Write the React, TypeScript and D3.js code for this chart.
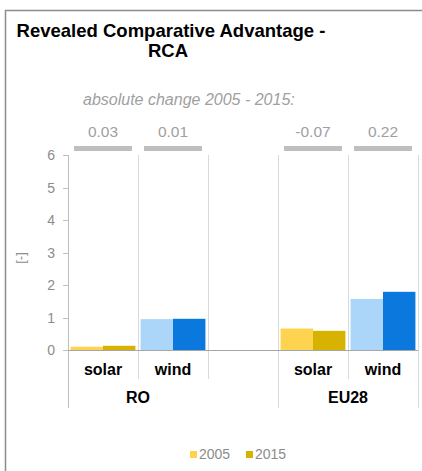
import React from "react";
import * as d3 from "d3";

const groups = ["RO", "EU28"];
const techs = ["solar", "wind"];
const years = ["2005", "2015"];
const slots = ["RO|solar", "RO|wind", "gap", "EU28|solar", "EU28|wind"];
const values2005 = [0.1, 0.95, 0.66, 1.57];
const values2015 = [0.13, 0.96, 0.59, 1.79];
const changes = ["0.03", "0.01", "-0.07", "0.22"];
const yTicks = [0, 1, 2, 3, 4, 5, 6];

const colors: Record<string, string[]> = {
  solar: ["#FDD34F", "#D7B200"],
  wind: ["#ABD6FA", "#0A78DC"],
};

const W = 422;
const H = 471;
const FONT = "Liberation Sans, Arial, sans-serif";

export default function App() {
  const x = d3.scaleBand().domain(slots).range([68, 418]).paddingInner(0).paddingOuter(0);
  const y = d3.scaleLinear().domain([0, 6]).range([350, 155]);
  const inner = d3.scaleBand().domain(years).range([0, x.bandwidth()]).paddingOuter(0.08).paddingInner(0);

  const bars: { key: string; slot: string; tech: string; yi: number; v: number }[] = [];
  const cats: { slot: string; tech: string; group: string; idx: number }[] = [];
  let idx = 0;
  groups.forEach((g) => {
    techs.forEach((t) => {
      const slot = `${g}|${t}`;
      cats.push({ slot, tech: t, group: g, idx });
      bars.push({ key: slot + "0", slot, tech: t, yi: 0, v: values2005[idx] });
      bars.push({ key: slot + "1", slot, tech: t, yi: 1, v: values2015[idx] });
      idx++;
    });
  });

  const bw = x.bandwidth();
  const gridColor = "#D9D9D9";
  const axisColor = "#BFBFBF";

  return (
    <svg width={W} height={H} style={{ display: "block", position: "absolute", left: 0, top: 0 }} fontFamily={FONT}>
      <rect x={0} y={0} width={W} height={H} fill="#fff" />
      {/* frame */}
      <line x1={5.5} y1={10} x2={5.5} y2={H} stroke="#8C8C8C" strokeWidth={1.5} />
      <line x1={5} y1={10.5} x2={W} y2={10.5} stroke="#8C8C8C" strokeWidth={1.5} />

      {/* title */}
      <text x={171} y={37} textAnchor="middle" fontSize={18.5} fontWeight="bold" fill="#000">
        Revealed Comparative Advantage -
      </text>
      <text x={168} y={57} textAnchor="middle" fontSize={18.5} fontWeight="bold" fill="#000">
        RCA
      </text>

      <text x={83} y={105} fontSize={16} fontStyle="italic" fill="#A0A0A0">
        absolute change 2005 - 2015:
      </text>

      {/* change values & grey bars */}
      {cats.map((c, i) => (
        <g key={c.slot}>
          <text x={(x(c.slot) ?? 0) + bw / 2} y={137} textAnchor="middle" fontSize={15.5} fill="#A0A0A0">
            {changes[i]}
          </text>
          <rect x={(x(c.slot) ?? 0) + 6} y={146} width={bw - 12} height={5} fill="#BFBFBF" />
        </g>
      ))}

      {/* vertical separators */}
      {slots.slice(1).map((s) => {
        const xx = Math.round(x(s) ?? 0) + 0.5;
        const isGroup = s === "EU28|solar";
        return <line key={s} x1={xx} x2={xx} y1={155} y2={isGroup ? 408 : 379} stroke={gridColor} strokeWidth={1} />;
      })}
      <line x1={418.5} x2={418.5} y1={155} y2={408} stroke={gridColor} strokeWidth={1} />

      {/* bars */}
      {bars.map((b) => (
        <rect
          key={b.key}
          x={(x(b.slot) ?? 0) + (inner(years[b.yi]) ?? 0)}
          y={y(b.v)}
          width={inner.bandwidth()}
          height={y(0) - y(b.v)}
          fill={colors[b.tech][b.yi]}
        />
      ))}

      {/* y axis */}
      <line x1={68.5} x2={68.5} y1={155} y2={408} stroke={axisColor} strokeWidth={1} />
      <line x1={63} x2={418} y1={350.5} y2={350.5} stroke="#A6A6A6" strokeWidth={1} />
      {yTicks.map((t) => (
        <g key={t}>
          <line x1={63} x2={68} y1={Math.round(y(t)) + 0.5} y2={Math.round(y(t)) + 0.5} stroke={axisColor} />
          <text x={55} y={y(t) + 5} textAnchor="end" fontSize={14} fill="#8C8C8C">
            {t}
          </text>
        </g>
      ))}
      <text transform="translate(25,258) rotate(-90)" textAnchor="middle" fontSize={13} fill="#8C8C8C">
        [-]
      </text>

      {/* category labels */}
      {cats.map((c) => (
        <text key={c.slot + "l"} x={(x(c.slot) ?? 0) + bw / 2} y={375} textAnchor="middle" fontSize={16} fontWeight="bold" fill="#000">
          {c.tech}
        </text>
      ))}
      {groups.map((g) => {
        const x0 = x(`${g}|solar`) ?? 0;
        return (
          <text key={g} x={x0 + bw} y={403} textAnchor="middle" fontSize={16} fontWeight="bold" fill="#000">
            {g}
          </text>
        );
      })}

      {/* legend */}
      {years.map((yr, i) => (
        <g key={yr} transform={`translate(${190 + i * 56},451)`}>
          <rect x={0} y={0} width={7} height={7} fill={colors.solar[i]} />
          <text x={9} y={8} fontSize={14} fill="#8C8C8C">
            {yr}
          </text>
        </g>
      ))}
    </svg>
  );
}
